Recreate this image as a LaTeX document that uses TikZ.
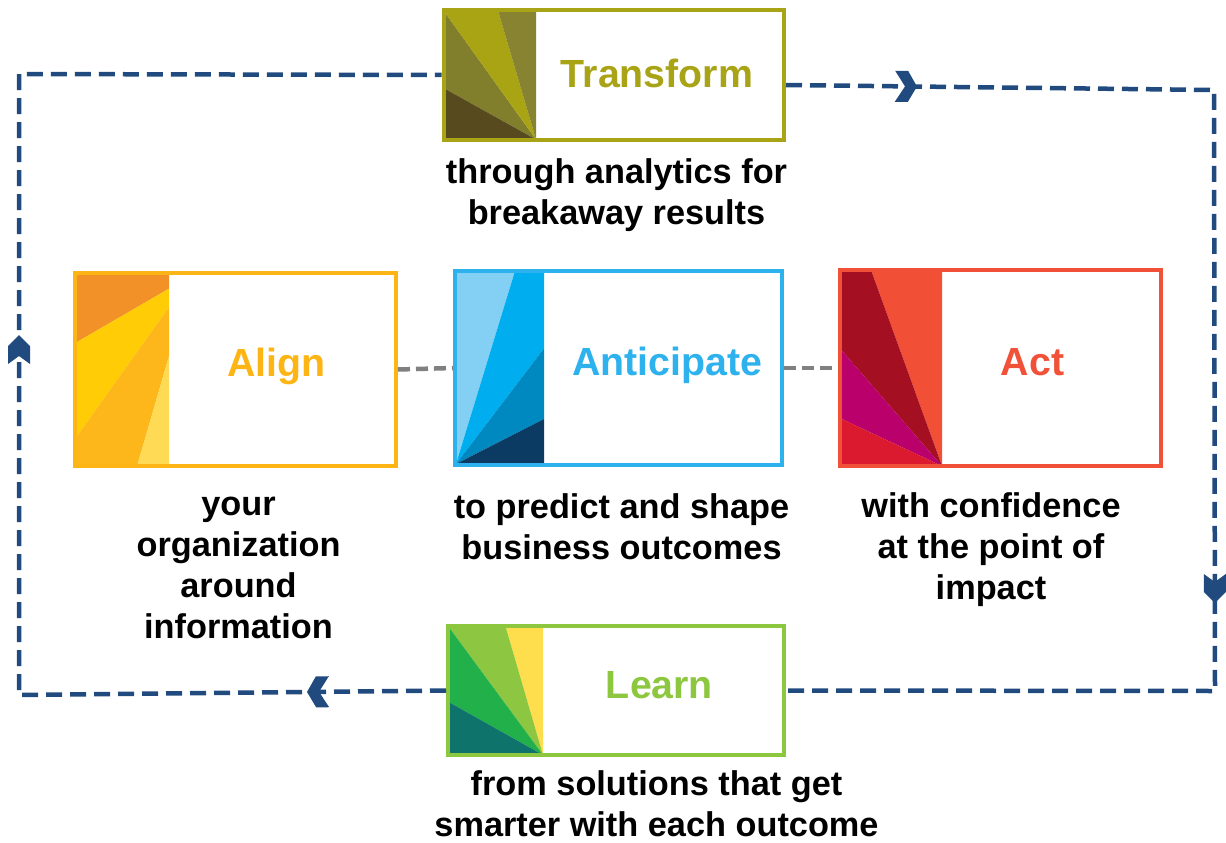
\documentclass[tikz,border=0pt]{standalone}
\usepackage{fontspec}
\setmainfont{Liberation Sans}
\usetikzlibrary{decorations.markings,calc}
\definecolor{trC}{HTML}{A9A316}
\definecolor{alC}{HTML}{FDB515}
\definecolor{anC}{HTML}{2DB2EE}
\definecolor{acC}{HTML}{F15138}
\definecolor{leC}{HTML}{8DC63F}
\definecolor{navyC}{HTML}{214B7E}
\definecolor{grayC}{HTML}{808080}
% fan colours
\definecolor{trA}{HTML}{817F2C}
\definecolor{trB}{HTML}{A8A414}
\definecolor{trD}{HTML}{878330}
\definecolor{trE}{HTML}{574A1F}
\definecolor{alA}{HTML}{F39129}
\definecolor{alB}{HTML}{FFCC05}
\definecolor{alD}{HTML}{FDB71A}
\definecolor{alE}{HTML}{FFDA55}
\definecolor{anA}{HTML}{84D0F5}
\definecolor{anB}{HTML}{00AEEF}
\definecolor{anD}{HTML}{0089C0}
\definecolor{anE}{HTML}{0B3A63}
\definecolor{acA}{HTML}{F15036}
\definecolor{acB}{HTML}{A50F22}
\definecolor{acD}{HTML}{BA006A}
\definecolor{acE}{HTML}{DB1A30}
\definecolor{leA}{HTML}{FFDE4D}
\definecolor{leB}{HTML}{8DC640}
\definecolor{leD}{HTML}{22B04B}
\definecolor{leE}{HTML}{0E736A}
\begin{document}
\begin{tikzpicture}[x=1pt,y=-1pt,
  box/.style={draw=#1, line width=4pt, rectangle, inner sep=0pt},
  title/.style={text=#1, font=\fontsize{39.3}{44}\selectfont\bfseries, anchor=base, inner sep=0pt},
  label/.style={font=\fontsize{34.3}{41}\selectfont\bfseries, align=center, anchor=north, inner sep=0pt},
  loopline/.style={draw=navyC, line width=4.5pt, dash pattern=on 16pt off 8pt},
  link/.style={draw=grayC, line width=4.5pt, dash pattern=on 12pt off 6pt},
  hchev/.style={insert path={(0,0) -- (-9,15.5) -- (-22,15.5) -- (-12,0) -- (-22,-15.5) -- (-9,-15.5) -- cycle}},
  vchev/.style={insert path={(0,0) -- (-11,11) -- (-29,11) -- (-21,0) -- (-29,-11) -- (-11,-11) -- cycle}}
]
\useasboundingbox (0,0) rectangle (1226,843);

% ---------- fans ----------
% Transform
\fill[trA] (536,139.5) -- (443.5,10.5) -- (443.5,88) -- cycle;
\fill[trB] (536,139.5) -- (443.5,10.5) -- (498,10.5) -- cycle;
\fill[trD] (536,139.5) -- (498,10.5) -- (536,10.5) -- cycle;
\fill[trE] (536,139.5) -- (443.5,88) -- (443.5,139.5) -- cycle;
% Align
\fill[alA] (75,273) -- (169,273) -- (169,288.7) -- (75,343.2) -- cycle;
\fill[alB] (75,343.2) -- (169,288.7) -- (169,307.3) -- (75,439) -- cycle;
\fill[alD] (75,439) -- (169,307.3) -- (169,356.3) -- (137.1,466) -- (75,466) -- cycle;
\fill[alE] (169,356.3) -- (169,466) -- (137.1,466) -- cycle;
% Anticipate
\fill[anA] (456,464) -- (455,271) -- (515,271) -- cycle;
\fill[anB] (456,464) -- (515,271) -- (544,271) -- (544,348.3) -- cycle;
\fill[anD] (456,464) -- (544,348.3) -- (544,419) -- cycle;
\fill[anE] (456,464) -- (544,419) -- (544,465) -- (455,465) -- cycle;
% Act
\fill[acA] (942,466) -- (871,270) -- (942,270) -- cycle;
\fill[acB] (942,466) -- (871,270) -- (840,270) -- (840,348.5) -- cycle;
\fill[acD] (942,466) -- (840,348.5) -- (840,418.2) -- cycle;
\fill[acE] (942,466) -- (840,418.2) -- (840,466) -- cycle;
% Learn
\fill[leA] (543,755) -- (505.4,626) -- (543,626) -- cycle;
\fill[leB] (543,755) -- (448,626) -- (505.4,626) -- cycle;
\fill[leD] (543,755) -- (448,626) -- (448,701.6) -- cycle;
\fill[leE] (543,755) -- (448,701.6) -- (448,755) -- cycle;

% ---------- boxes ----------
\node[box=trC, minimum width=340.5pt, minimum height=129pt] (tr) at (613.75,75) {};
\node[box=alC, minimum width=321pt, minimum height=193pt] (al) at (235.5,369.5) {};
\node[box=anC, minimum width=327pt, minimum height=194pt] (an) at (618.5,368) {};
\node[box=acC, minimum width=321pt, minimum height=196pt] (ac) at (1000.5,368) {};
\node[box=leC, minimum width=336pt, minimum height=129pt] (le) at (616,690.5) {};

% ---------- titles ----------
\node[title=trC] (trT) at (657,87) {Transform};
\node[title=alC] (alT) at (276.5,376) {Align};
\node[title=anC] (anT) at (667,375) {Anticipate};
\node[title=acC] (acT) at (1032.5,375) {Act};
\node[title=leC] (leT) at (659.5,698) {Learn};

% ---------- labels ----------
\node[label] (trL) at (616.5,154.3) {\strut through analytics for\\breakaway results};
\node[label] (alL) at (238.5,486.3) {\strut your\\organization\\around\\information};
\node[label] (anL) at (621.5,489.3) {\strut to predict and shape\\business outcomes};
\node[label] (acL) at (991,488.3) {\strut with confidence\\at the point of\\impact};
\node[label] (leL) at (656.5,766.5) {\strut from solutions that get\\smarter with each outcome};

% ---------- gray links ----------
\draw[link] (al.east) -- (an.west);
\draw[link] (an.east) -- (ac.west);

% ---------- loop ----------
\coordinate (c1) at (19,695);
\coordinate (c2) at (19,74);
\coordinate (c3) at (1214,90);
\coordinate (c4) at (1215,691);
\draw[loopline, postaction={decorate}, decoration={markings,
    mark=at position 139pt with {\fill[navyC, draw=none, hchev];},
    mark=at position 787pt with {\fill[navyC, draw=none, vchev];}}]
  (le.west) -- (c1) -- (c2) -- (tr.west);
\draw[loopline, postaction={decorate}, decoration={markings,
    mark=at position 131pt with {\fill[navyC, draw=none, hchev];},
    mark=at position 941pt with {\fill[navyC, draw=none, vchev];}}]
  ($(tr.east)+(0,10)$) -- (c3) -- (c4) -- (le.east);
\end{tikzpicture}
\end{document}
